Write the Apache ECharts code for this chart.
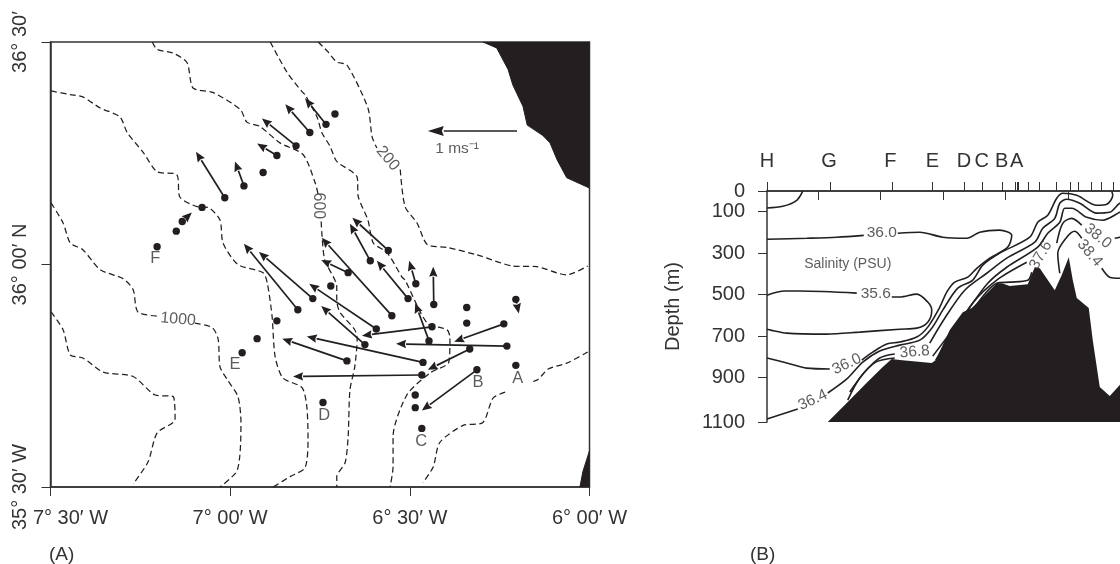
<!DOCTYPE html>
<html><head><meta charset="utf-8">
<style>html,body{margin:0;padding:0;background:#fff;overflow:hidden}#c{width:1120px;height:564px}</style>
<script src="https://cdn.jsdelivr.net/npm/echarts@6/dist/echarts.min.js"></script>
</head><body><div id="c"></div>
<script>
// Panel A: x = arc-minutes east of 7°30'W, y = arc-minutes north of 35°30'N
const lonTicks=[0,30,60,90];
const lonLabels=['7° 30′ W','7° 00′ W','6° 30′ W','6° 00′ W'];
const latTicks=[0,30,60];
const latLabels=['35° 30′ W','36° 00′ N','36° 30′'];
const isobaths=[
 [[44.7,60],[46.3,58.7],[47.8,57.3],[49.5,56.9],[53,51.1],[53.7,47.2],[54.5,45.7]],
 [[58.4,42.8],[59.2,37.8],[61.2,35.6],[62.9,32.7],[66.2,32.3],[71.2,31.3],[77.2,29.8],[81.2,29.7],[86.2,28.6],[89.7,29.8]],
 [[36.7,60],[39.5,55.9],[42,53.3],[42.5,52.9],[44.5,49.9],[45.3,47.8],[46.7,45.9],[47.8,43.9],[51.2,41.8],[51.4,39.1],[53,36],[53.9,32.9],[56.2,31.6],[58.7,28.3],[59.2,27.9],[62.9,22.1],[66.2,21.2],[66.7,20.1],[66.5,16.8],[63.4,15.4],[59.5,12.4],[57.2,6.8],[57.2,2.7],[56.7,0]],
 [[17,60],[17.8,59],[20.5,58.5],[22.8,57.2],[23.8,53.8],[27.1,53.2],[31.7,50.9],[32.8,49.2],[35,48.6],[38.3,46.4],[42.2,44.8],[44.2,41],[44.7,39.4]],
 [[45.2,35.8],[45.3,34.3],[45.8,30.6],[47.8,27],[47.8,25.2],[48.3,23.6],[50.8,21.2],[51.2,19.9],[50.8,16.2],[50,13.1],[49.7,6.8],[49.2,3.3],[47.8,1.4],[47.8,0]],
 [[0.1,53.4],[3.3,52.9],[5.4,52.6],[8.3,51.1],[11.6,49.9],[12.8,47.8],[15.5,45.1],[17.8,42.5],[21.1,42.1],[21.6,39.1],[24.5,37.8],[26.3,37.7],[28.3,36],[28.8,32.9],[31.3,30],[35.5,28.9],[36.2,27.5],[37,23],[37.5,17.6],[38.8,14.7],[42,13.4],[42.8,10.8],[43,6.4],[42.5,2.6],[40,1.4],[37.2,0]],
 [[0.1,38.3],[2.1,35.6],[3.3,32.9],[5.4,32],[8.3,29.3],[12.1,28.1],[13.8,26.6],[14.6,23.6],[18.3,23]],
 [[24.1,22.1],[27,21.5],[28,19.9],[28.3,16.2],[29.5,14.5],[31.3,12.2],[31.8,8.7],[31.2,2.3],[28.3,0]],
 [[0.1,23.6],[2.1,21.2],[3.3,17.8],[5.4,17.4],[8.8,15.5],[13.8,14.9],[17.5,12.4],[20.5,12.2],[20.8,9.1],[17.8,7.3],[16.3,3.4],[13.8,0.4]],
 [[89.7,18.2],[86.2,16.7],[83.1,15.9],[81.4,14.5],[80.1,14.1]],
 [[75.9,12.8],[73.9,12],[72.2,8.7],[68.9,8.3],[65,6],[63.9,2.7],[62.2,0.6]]
];
const coastNorth=[[72.2,60],[74.5,59.2],[76.4,56.3],[77.2,54.2],[78.9,51.3],[79.6,48.8],[82.2,47.4],[83.4,46.4],[84.6,44.1],[86.2,41.7],[90,40.3]];
const coastSouth=[[88.4,0],[88.9,2.1],[90,4.9]];
// current vectors: tail lon, tail lat, head lon, head lat
const currents=[
 [46,48.9,42.5,52.4],[43.3,47.8,39.2,51.6],[41,46,35.3,49.7],[37.8,44.7,34.5,46.3],[32.3,40.6,30.8,43.9],[29.1,39,24.3,45.2],
 [56.4,31.9,50.4,36.3],[53.4,30.5,50,35.5],[49.7,28.9,45.2,30.6],[57,23.1,45.3,33.6],[54.4,21.3,43.2,27.4],[52.5,19.2,45.2,24.4],
 [41.3,23.9,32.3,32.8],[43.8,25.4,34.8,31.7],[59.7,25.4,54.5,30.5],[61,27.4,59.9,30.5],[64,24.6,63.9,29.7],[63.2,19.7,60.9,24.8],
 [63.7,21.6,52,20.4],[75.7,22,67.4,19.6],[76.2,19,57.7,19.3],[70,18.6,63,15.8],[62.2,16.8,42.8,20.3],[62,15.1,40.5,14.9],
 [49.5,17,38.7,20],[71.2,15.8,62,10.3],[77.7,25.3,78.2,23.4],[22,35.8,23.6,37]
];
const stations=[[35.5,42.4],[25.3,37.7],[21,34.5],[17.8,32.4],[47.5,50.3],[46.8,27.1],[37.8,22.4],[69.5,24.2],[69.5,22.1],[60.9,12.4],[60.9,10.7],[62,7.9],[77.7,16.4],[45.5,11.4],[32,18.1],[34.5,20]];
const scaleArrow=[[77.9,48,63,48]];
const mapLabels=[
 ['A',78,14.7,0,16.5],['B',71.4,14.1,0,16.5],['C',61.9,6.1,0,16.5],['D',45.7,9.6,0,16.5],['E',30.8,16.5,0,16.5],['F',17.5,30.8,0,16.5],
 ['200',56.3,44.3,-50,16],['600',44.7,37.9,-90,16],['1000',21.3,22.6,-5,16],['1 ms⁻¹',67.9,45.6,0,15.5]
];
// Panel B: x = distance along section (km), y = depth (m)
const depthTicks=[0,100,300,500,700,900,1115];
const depthTickLabels=['0','100','300','500','700','900','1100'];
const distTicks=[50,100,150,200,250,300];
const stationNames=['H','G','F','E','D','C','B','A'];
const stationKm=[9.4,59,108,141.8,167,181.2,197.2,209.2];
const topTicks=[9.4,60.2,109.2,141.8,166.8,181.2,197.2,207.6,209.2,210,218,226.8,240.4,251.6,258,268.4,276.4,286];
const salinity=[
 [[9.4,82],[22,74],[33.2,45],[38,1]],
 [[9.4,233],[41.2,228],[65.2,223],[86.8,214]],
 [[114,204],[131.6,199],[150,223],[169.2,228],[179.6,199],[195.6,189],[205.2,214],[202,271],[187.6,324],[177.2,373],[170,416],[159.6,440],[153.2,488],[147.6,561],[138,657],[129.2,705],[115.6,729],[105.2,739],[94,778],[85.2,816]],
 [[59.6,859],[41.2,855],[25.2,830],[9.4,806]],
 [[9.4,503],[23.6,483],[35.6,483],[81.2,493]],
 [[109.2,512],[115.6,512],[129.2,498],[138,536],[141.2,575],[138,633],[129.2,662],[115.6,667],[83.6,681],[57.2,691],[25.2,686],[9.4,667]],
 [[9.4,1100],[34,1052]],
 [[58,975],[74,903],[86,826],[99.6,772],[115.6,744],[131.6,720],[141.2,662],[150,575],[162,469],[174,430],[182,358],[195.6,300],[219.6,223],[226,151],[234,117],[241.2,35],[246,11],[257.2,21],[273.2,69],[281.2,64],[286,21],[285.2,1]],
 [[75.6,970],[87.6,874],[99.6,806],[111.6,787]],
 [[139.6,734],[151.6,614],[167.6,479],[185.2,397],[201.2,324],[223.6,247],[230,180],[239.6,132],[243.6,59],[249.2,40],[259.6,59],[273.2,107],[283.6,103],[291.6,59],[303.6,30]],
 [[74,1009],[83.6,903],[96.4,826],[111.6,806]],
 [[142,797],[170,575],[186,445],[201.2,368],[226,271],[234,204],[243.6,151],[247.6,83],[253.2,83],[265.2,127],[278,141],[291.6,103],[303.6,69]],
 [[144.4,816],[174,541],[193.2,430],[217.2,344]],
 [[241.2,252],[246,156],[253.2,132],[261.2,165]],
 [[287.6,228],[291.6,223],[303.6,199]],
 [[175.6,561],[193.2,445],[203.6,440],[218,431],[221.2,392]],
 [[243.6,397],[242,300],[249.2,223],[255.6,194],[261.2,228]],
 [[277.2,373],[283.6,416],[291.6,421],[303.6,392]]
];
const seabed=[[58,1115],[65.2,1071],[74,1018],[89.2,926],[102,849],[109.2,811],[115.6,816],[141.2,830],[144.4,816],[155.6,671],[166,585],[173.2,565],[179.6,527],[193.2,445],[197.2,445],[203.6,459],[218,450],[223.6,368],[227.6,373],[239.6,479],[245.2,406],[250.8,320],[254,430],[257.2,517],[266.8,565],[270,720],[275.6,946],[283.6,990],[291.6,937],[299.6,874],[307.8,816]];
const sectionLabels=[
 ['36.0',101.2,203,0,15.5],['35.6',96.4,498,0,15.5],['36.0',73.2,836,25,15.5],['36.4',46,1009,25,15.5],['36.8',127.6,777,5,15.5],
 ['37.6',228.4,310,60,15.5],['38.0',274,218,-40,15.5],['38.4',267.6,300,-50,15.5],['Salinity (PSU)',74,354,0,14]
];

const INK='#231f20', TXT='#333';
const FONT='"Liberation Sans",Arial,sans-serif';
function labelSeries(rows,xi,yi){
  return {type:'scatter',xAxisIndex:xi,yAxisIndex:yi,symbolSize:0,silent:true,z:20,
    data:rows.map(r=>({value:[r[1],r[2]],name:r[0],label:{show:true,position:'inside',rotate:r[3],fontSize:r[4],
      color:TXT,fontFamily:FONT,formatter:r[0],align:'center',verticalAlign:'middle'}}))};
}
function arrowSeries(rows,opt){
  return {type:'custom',xAxisIndex:0,yAxisIndex:0,silent:true,z:10,clip:false,
    encode:{x:[0,2],y:[1,3]},data:rows,
    renderItem(p,api){
      const a=api.coord([api.value(0),api.value(1)]),b=api.coord([api.value(2),api.value(3)]);
      const ang=Math.atan2(b[1]-a[1],b[0]-a[0]),c=Math.cos(ang),s=Math.sin(ang);
      const L=opt.len,W=opt.wid;
      const base=[b[0]-L*c,b[1]-L*s];
      const kids=[
        {type:'line',shape:{x1:a[0],y1:a[1],x2:base[0],y2:base[1]},style:{stroke:INK,lineWidth:opt.lw}},
        {type:'polygon',shape:{points:[b,[base[0]-W*s,base[1]+W*c],[base[0]+L*.12*c,base[1]+L*.12*s],[base[0]+W*s,base[1]-W*c]]},style:{fill:INK}}
      ];
      if(opt.dot)kids.push({type:'circle',shape:{cx:a[0],cy:a[1],r:opt.dot},style:{fill:INK}});
      return {type:'group',children:kids};
    }};
}
const series=[];
isobaths.forEach(d=>series.push({type:'line',xAxisIndex:0,yAxisIndex:0,data:d,smooth:.25,symbol:'none',silent:true,
  lineStyle:{color:INK,width:1.25,type:[6,3.5]}}));
series.push({type:'line',xAxisIndex:0,yAxisIndex:0,data:coastNorth,symbol:'none',silent:true,lineStyle:{color:INK,width:1},
  areaStyle:{color:INK,opacity:1,origin:'end'}});
series.push({type:'line',xAxisIndex:0,yAxisIndex:0,data:coastSouth,symbol:'none',silent:true,lineStyle:{color:INK,width:1},
  areaStyle:{color:INK,opacity:1,origin:'start'}});
series.push(arrowSeries(currents,{len:10,wid:4.2,lw:1.7,dot:3.7}));
series.push(arrowSeries(scaleArrow,{len:16,wid:5,lw:1.4,dot:0}));
series.push({type:'scatter',xAxisIndex:0,yAxisIndex:0,data:stations,symbolSize:7.4,itemStyle:{color:INK,opacity:1},silent:true,z:10});
series.push(labelSeries(mapLabels,0,0));
series.push({type:'line',xAxisIndex:1,yAxisIndex:1,data:seabed,symbol:'none',silent:true,lineStyle:{width:0},
  areaStyle:{color:INK,opacity:1,origin:'end'},z:3});
salinity.forEach(d=>series.push({type:'line',xAxisIndex:1,yAxisIndex:1,data:d,smooth:.3,symbol:'none',silent:true,z:5,
  lineStyle:{color:INK,width:1.6}}));
series.push(labelSeries(sectionLabels,1,1));

const axisLine={show:true,lineStyle:{color:'#333',width:1.5}};
const tick={show:true,length:9,inside:false,lineStyle:{color:'#333',width:1}};
const labelBase={color:TXT,fontFamily:FONT,fontSize:20};
const chart=echarts.init(document.getElementById('c'),null,{renderer:'canvas'});
chart.setOption({
  animation:false,backgroundColor:'#fff',
  grid:[
    {left:50.5,top:42,width:539,height:445,show:true,borderColor:'#333',borderWidth:1.5,backgroundColor:'transparent',outerBoundsMode:'none'},
    {left:767,top:191,width:373,height:231,show:false,outerBoundsMode:'none'}
  ],
  xAxis:[
    {type:'value',gridIndex:0,min:0,max:90,splitLine:{show:false},axisLine,
     axisTick:{...tick,customValues:lonTicks},
     axisLabel:{...labelBase,margin:21,customValues:lonTicks,hideOverlap:false,showMinLabel:true,showMaxLabel:true,
       formatter:v=>{const i=lonTicks.indexOf(v);return i===0?'{a|'+lonLabels[0]+'}':lonLabels[i];},
       rich:{a:{...labelBase,padding:[0,0,0,40]}}}},
    {type:'value',gridIndex:1,min:9.4,max:307.8,position:'bottom',splitLine:{show:false},axisLine,
     axisTick:{...tick,customValues:distTicks},axisLabel:{show:false}},
    {type:'value',gridIndex:1,min:9.4,max:307.8,position:'top',splitLine:{show:false},axisLine,
     axisTick:{...tick,customValues:topTicks},
     axisLabel:{...labelBase,margin:20,customValues:stationKm,showMinLabel:true,hideOverlap:false,
       formatter:v=>stationNames[stationKm.indexOf(v)]}}
  ],
  yAxis:[
    {type:'value',gridIndex:0,min:0,max:60,splitLine:{show:false},axisLine,
     axisTick:{...tick,customValues:latTicks},
     axisLabel:{...labelBase,rotate:90,margin:20,customValues:latTicks,showMinLabel:true,showMaxLabel:true,hideOverlap:false,
       formatter:v=>latLabels[latTicks.indexOf(v)]}},
    {type:'value',gridIndex:1,inverse:true,min:0,max:1115,splitLine:{show:false},axisLine,
     name:'Depth (m)',nameLocation:'middle',nameGap:84,nameRotate:90,nameTextStyle:{...labelBase},
     axisTick:{...tick,customValues:depthTicks},
     axisLabel:{...labelBase,margin:22,customValues:depthTicks,showMinLabel:true,showMaxLabel:true,hideOverlap:false,
       formatter:v=>depthTickLabels[depthTicks.indexOf(v)]}}
  ],
  series,
  graphic:[
    {type:'text',left:49,top:545,style:{text:'(A)',fill:TXT,font:'19px '+FONT}},
    {type:'text',left:750,top:545,style:{text:'(B)',fill:TXT,font:'19px '+FONT}}
  ]
});
</script></body></html>
